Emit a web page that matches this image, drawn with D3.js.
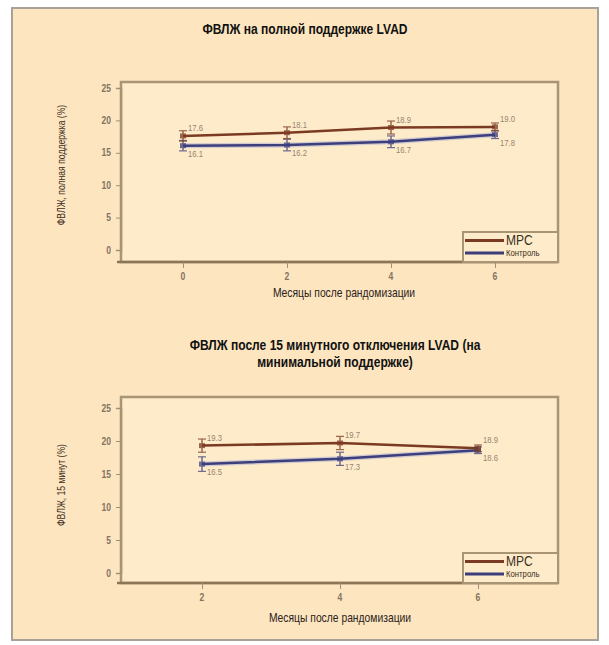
<!DOCTYPE html>
<html>
<head>
<meta charset="utf-8">
<script src="https://cdn.jsdelivr.net/npm/d3@7"></script>
<style>
  html, body { margin: 0; padding: 0; background: #ffffff; }
  svg { display: block; }
  text { font-family: "Liberation Sans", Arial, sans-serif; }
</style>
</head>
<body>
<svg id="chart" width="609" height="645"></svg>
<script>
// LVEF under full LVAD support
const fullMonths = [0, 2, 4, 6];
const fullMpc = [17.6, 18.1, 18.9, 19.0];
const fullCtrl = [16.1, 16.2, 16.7, 17.8];
const fullMpcErr = [0.8, 0.9, 1.0, 0.6];
const fullCtrlErr = [0.8, 0.9, 0.9, 0.6];

// LVEF after 15-minute LVAD turndown
const turnMonths = [2, 4, 6];
const turnMpc = [19.3, 19.7, 18.9];
const turnCtrl = [16.5, 17.3, 18.6];
const turnMpcErr = [1.0, 1.0, 0.5];
const turnCtrlErr = [1.1, 1.0, 0.5];

const yTicks = [0, 5, 10, 15, 20, 25];
const seriesNames = ["MPC", "Контроль"];

const titleFull = "ФВЛЖ на полной поддержке LVAD";
const titleTurn = ["ФВЛЖ после 15 минутного отключения LVAD (на", "минимальной поддержке)"];
const yTitleFull = "ФВЛЖ, полная поддержка (%)";
const yTitleTurn = "ФВЛЖ, 15 минут (%)";
const xTitle = "Месяцы после рандомизации";

const colors = { mpc: "#7b3a22", ctrl: "#3c3f7c", ctrlGlow: "#9aa0d8" };
const NARROW = 0.86; // condensed look for all lettering

const svg = d3.select("#chart");

// places condensed text at (x, y), optionally rotated
function label(parent, x, y, str, opts = {}) {
  const rot = opts.rotate ? ` rotate(${opts.rotate})` : "";
  return parent.append("text")
    .attr("transform", `translate(${x},${y})${rot} scale(${NARROW},1)`)
    .attr("text-anchor", opts.anchor || "start")
    .attr("font-size", opts.size || 10)
    .attr("font-weight", opts.weight || "normal")
    .attr("fill", opts.fill || "#222")
    .attr("opacity", opts.opacity == null ? 1 : opts.opacity)
    .text(str);
}

// outer panel
svg.append("rect")
  .attr("x", 12).attr("y", 8).attr("width", 586).attr("height", 632)
  .attr("fill", "#fde6bf").attr("stroke", "#aaa296").attr("stroke-width", 2);

function drawPanel(cfg) {
  const g = svg.append("g");
  const x = d3.scaleLinear().domain(cfg.xDomain).range(cfg.xRange);
  const y = d3.scaleLinear().domain([0, 25]).range(cfg.yRange);
  const f = cfg.frame;

  // plot area
  g.append("rect")
    .attr("x", f.left).attr("y", f.top)
    .attr("width", f.right - f.left).attr("height", f.bottom - f.top)
    .attr("fill", "#fdebc9").attr("stroke", "#a99474").attr("stroke-width", 2.5);

  // bottom axis line
  g.append("line")
    .attr("x1", f.left - 4).attr("x2", f.right)
    .attr("y1", f.bottom).attr("y2", f.bottom)
    .attr("stroke", "#8c7556").attr("stroke-width", 2.5);

  // y axis
  const yAxis = d3.axisLeft(y).tickValues(yTicks).tickSize(5).tickPadding(6);
  const ya = g.append("g").attr("transform", `translate(${f.left},0)`).call(yAxis);
  ya.select(".domain").attr("stroke", "#a99474").attr("stroke-width", 1.5);
  ya.selectAll(".tick line").attr("stroke", "#9d8f7c");
  ya.selectAll(".tick text").remove();
  yTicks.forEach(t => label(g, f.left - 10, y(t) + 3.5, String(t),
    { anchor: "end", size: 10, weight: "bold", fill: "#6d6052", opacity: 0.85 }));

  // x axis
  const xAxis = d3.axisBottom(x).tickValues(cfg.months).tickSize(6).tickFormat(() => "");
  const xa = g.append("g").attr("transform", `translate(0,${f.bottom})`).call(xAxis);
  xa.select(".domain").remove();
  xa.selectAll(".tick line").attr("stroke", "#9d8f7c");
  cfg.months.forEach(m => label(g, x(m), f.bottom + 18, String(m),
    { anchor: "middle", size: 10, weight: "bold", fill: "#6d6052", opacity: 0.85 }));

  const line = d3.line().x((d, i) => x(cfg.months[i])).y(d => y(d));

  // control: soft halo beneath the dark line
  g.append("path").datum(cfg.ctrl).attr("d", line)
    .attr("fill", "none").attr("stroke", colors.ctrlGlow).attr("stroke-width", 5).attr("opacity", 0.45);
  g.append("path").datum(cfg.ctrl).attr("d", line)
    .attr("fill", "none").attr("stroke", colors.ctrl).attr("stroke-width", 2.5);
  g.append("path").datum(cfg.mpc).attr("d", line)
    .attr("fill", "none").attr("stroke", colors.mpc).attr("stroke-width", 2.5);

  // error bars
  function errBars(vals, errs, color) {
    const eb = g.append("g").attr("opacity", 0.75);
    vals.forEach((v, i) => {
      const cx = x(cfg.months[i]);
      eb.append("line").attr("x1", cx).attr("x2", cx)
        .attr("y1", y(v - errs[i])).attr("y2", y(v + errs[i]))
        .attr("stroke", color).attr("stroke-width", 1.5);
      [v - errs[i], v + errs[i]].forEach(e => {
        eb.append("line").attr("x1", cx - 4).attr("x2", cx + 4)
          .attr("y1", y(e)).attr("y2", y(e))
          .attr("stroke", color).attr("stroke-width", 1.2);
      });
      eb.append("rect").attr("x", cx - 3).attr("y", y(v) - 2.5)
        .attr("width", 6).attr("height", 5).attr("fill", color);
    });
  }
  errBars(cfg.ctrl, cfg.ctrlErr, colors.ctrl);
  errBars(cfg.mpc, cfg.mpcErr, colors.mpc);

  // value labels
  cfg.mpc.forEach((d, i) => label(g, x(cfg.months[i]) + 5, y(d) - 5, d.toFixed(1),
    { size: 9, fill: "#7d6c5c", opacity: 0.8 }));
  cfg.ctrl.forEach((d, i) => label(g, x(cfg.months[i]) + 5, y(d) + 11, d.toFixed(1),
    { size: 9, fill: "#7d6c5c", opacity: 0.8 }));

  // legend
  const L = cfg.legend;
  g.append("rect").attr("x", L.x).attr("y", L.y).attr("width", L.w).attr("height", L.h)
    .attr("fill", "#fdebc9").attr("stroke", "#a99474").attr("stroke-width", 2);
  const rows = [
    { name: seriesNames[0], color: colors.mpc, size: 14, dy: L.h * 0.28 },
    { name: seriesNames[1], color: colors.ctrl, size: 9, dy: L.h * 0.7 }
  ];
  rows.forEach(r => {
    g.append("line").attr("x1", L.x + 2).attr("x2", L.x + 41)
      .attr("y1", L.y + r.dy).attr("y2", L.y + r.dy)
      .attr("stroke", r.color).attr("stroke-width", 3);
    label(g, L.x + 43, L.y + r.dy + r.size * 0.36, r.name, { size: r.size, fill: "#3d3026" });
  });

  // axis titles
  label(g, cfg.yTitlePos[0], cfg.yTitlePos[1], cfg.yTitle,
    { rotate: -90, anchor: "middle", size: 10, fill: "#3d3026" });
  label(g, cfg.xTitlePos[0], cfg.xTitlePos[1], xTitle,
    { anchor: "middle", size: 12, fill: "#2a211a" });

  // panel title
  cfg.title.forEach((t, i) => label(g, cfg.titlePos[0], cfg.titlePos[1] + i * 17, t,
    { anchor: "middle", size: 14, weight: "bold", fill: "#111" }));
}

drawPanel({
  months: fullMonths, mpc: fullMpc, ctrl: fullCtrl, mpcErr: fullMpcErr, ctrlErr: fullCtrlErr,
  xDomain: [0, 6], xRange: [183, 495], yRange: [250, 88],
  frame: { left: 121, right: 558, top: 82, bottom: 262 },
  legend: { x: 463, y: 232, w: 95, h: 30 },
  yTitle: yTitleFull, yTitlePos: [65, 165],
  xTitlePos: [344, 297],
  title: [titleFull], titlePos: [305, 34]
});

drawPanel({
  months: turnMonths, mpc: turnMpc, ctrl: turnCtrl, mpcErr: turnMpcErr, ctrlErr: turnCtrlErr,
  xDomain: [2, 6], xRange: [202, 478], yRange: [573, 408],
  frame: { left: 121, right: 558, top: 397, bottom: 583 },
  legend: { x: 463, y: 553, w: 95, h: 30 },
  yTitle: yTitleTurn, yTitlePos: [65, 485],
  xTitlePos: [340, 622],
  title: titleTurn, titlePos: [335, 350]
});
</script>
</body>
</html>
